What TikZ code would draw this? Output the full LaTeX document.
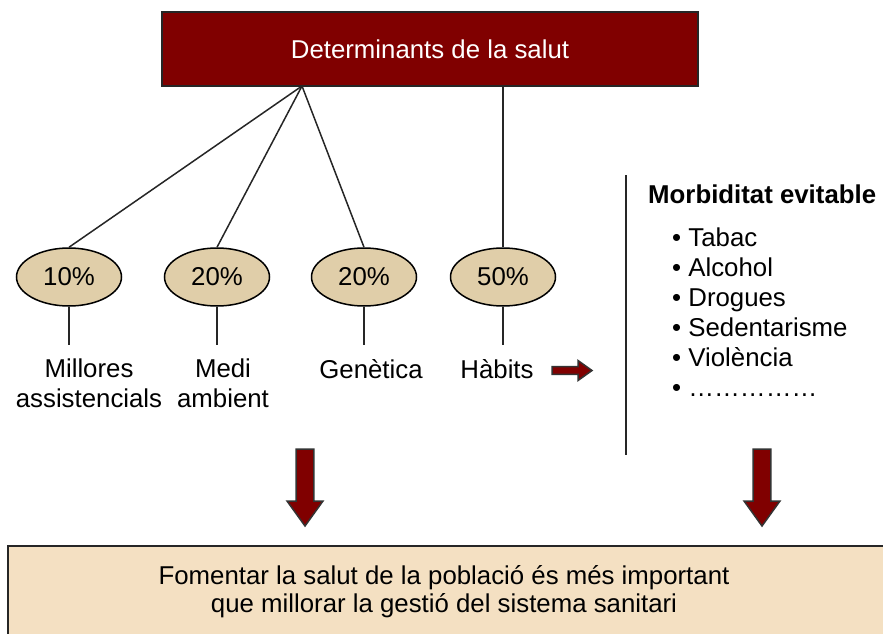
\documentclass[tikz,border=0pt]{standalone}
\usepackage{fontspec}
\setmainfont{Liberation Sans}
\usetikzlibrary{shapes.geometric}
\definecolor{boxred}{RGB}{128,0,0}
\definecolor{ellfill}{RGB}{224,206,169}
\definecolor{boxpeach}{RGB}{244,224,194}
\newcommand{\dfont}{\fontsize{25.8}{30}\selectfont}

\begin{document}
\begin{tikzpicture}[x=1pt,y=-1pt,font=\dfont]
        \tikzstyle{head_style} = [draw=black!85,line width=2pt,fill=boxred,text=white,minimum width=536pt,minimum height=74pt]
        \tikzstyle{ell_style} = [ellipse,draw=black,line width=1.5pt,fill=ellfill,minimum width=105pt,minimum height=58pt,inner sep=0pt]
        \tikzstyle{lab_style} = [align=center,inner sep=0pt,anchor=north]
        \tikzstyle{link_style} = [line width=1.5pt,draw=black!85]
        \tikzstyle{arrow_style} = [draw=black!80,line width=1.5pt,fill=boxred,line join=miter]
        \useasboundingbox (0,0) rectangle (883,634);
        \node[head_style] (head) at (430,49) {Determinants de la salut};
        \coordinate (fan) at (302,86);
        \node[ell_style] (ell_asist) at (69,277) {10\%};
        \node[ell_style] (ell_medi) at (217,277) {20\%};
        \node[ell_style] (ell_gen) at (364,277) {20\%};
        \node[ell_style] (ell_hab) at (503,277) {50\%};
        \draw[link_style] (fan) -- (ell_asist.north);
        \draw[link_style] (fan) -- (ell_medi.north);
        \draw[link_style] (fan) -- (ell_gen.north);
        \draw[link_style] (head.south -| ell_hab) -- (ell_hab.north);
        % labels under the ellipses
        \node[lab_style] (lab_asist) at (89,359) {Millores\\assistencials};
        \node[lab_style] (lab_medi) at (223,359) {Medi\\ambient};
        \node[lab_style] (lab_gen) at (371,359) {Genètica};
        \node[lab_style] (lab_hab) at (497,359) {Hàbits};
        \foreach \e in {asist,medi,gen,hab}
          \draw[link_style] (ell_\e.south) -- ++(0,38);
        % morbiditat
        \coordinate (div_top) at (626,175);
        \coordinate (div_bot) at (626,455);
        \draw[link_style] (div_top) -- (div_bot);
        \node[anchor=base west,inner sep=0pt,font=\dfont\bfseries] (morb_title) at (648,203) {Morbiditat evitable};
        \node[anchor=north west,align=left,inner sep=0pt] (morb_list) at (672,228) {• Tabac\\• Alcohol\\• Drogues\\• Sedentarisme\\• Violència\\• ……………};
        % arrows
        \coordinate (arr_hab) at (552,370.5);
        \draw[arrow_style] (arr_hab) ++(0,-3.8) -- ++(26,0) -- ++(0,-6.2) -- ++(14,10) -- ++(-14,10) -- ++(0,-6.2) -- ++(-26,0) -- cycle;
        \coordinate (arr_left) at (305,449);
        \coordinate (arr_right) at (762,449);
        \foreach \a in {arr_left,arr_right}
          \draw[arrow_style] (\a) ++(-8.8,0) -- ++(17.6,0) -- ++(0,52) -- ++(9.2,0) -- ++(-18,25) -- ++(-18,-25) -- ++(9.2,0) -- cycle;
        % conclusion
        \draw[draw=black!85,line width=2pt,fill=boxpeach] (8,546) rectangle (892,645);
        \node[align=center,font=\fontsize{25.8}{28}\selectfont] (concl) at (444,592) {Fomentar la salut de la població és més important\\que millorar la gestió del sistema sanitari};
\end{tikzpicture}
\end{document}
